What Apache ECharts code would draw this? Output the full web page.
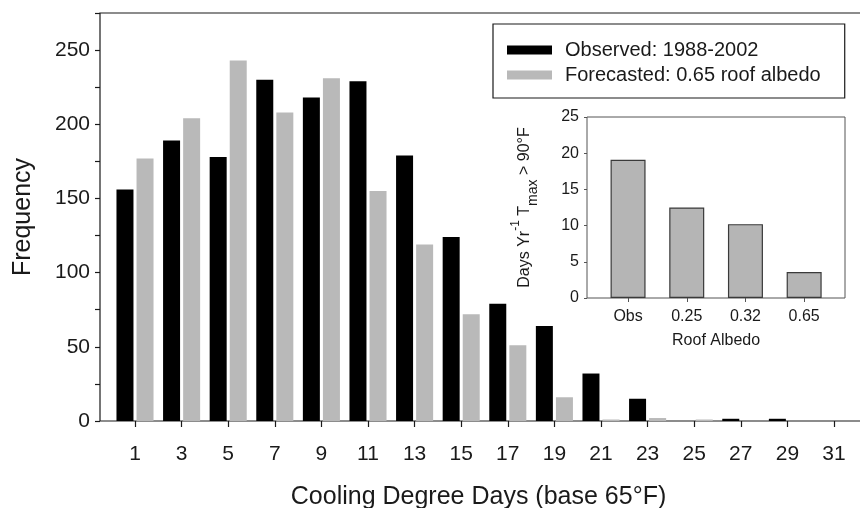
<!DOCTYPE html>
<html>
<head>
<meta charset="utf-8">
<script src="https://cdn.jsdelivr.net/npm/echarts@6/dist/echarts.min.js"></script>
<style>
html, body { margin: 0; padding: 0; background: #fff; }
#main { width: 860px; height: 508px; }
</style>
</head>
<body>
<div id="main"></div>
<script>
// cooling degree day bins (labels on the x axis)
var cddBins = ['1', '3', '5', '7', '9', '11', '13', '15', '17', '19', '21', '23', '25', '27', '29', '31'];
var observed = [156, 189, 178, 230, 218, 229, 179, 124, 79, 64, 32, 15, 0, 1.5, 1.5, 0];
var forecasted = [177, 204, 243, 208, 231, 155, 119, 72, 51, 16, 1, 2, 1, 0, 0, 0];
var freqTicks = [0, 50, 100, 150, 200, 250];

// inset: days per year with Tmax > 90F
var albedoCats = ['Obs', '0.25', '0.32', '0.65'];
var hotDays = [19.1, 12.5, 10.2, 3.6];

var FONT = '"Liberation Sans", Arial, sans-serif';
var INK = '#1a1a1a';
var GREY = '#b9b9b9';

var myChart = echarts.init(document.getElementById('main'), null, {renderer: 'canvas'});

var option = {
    backgroundColor: '#fff',
    animation: false,
    textStyle: {fontFamily: FONT, color: INK},
    legend: {
        data: ['Observed: 1988-2002', 'Forecasted: 0.65 roof albedo'],
        orient: 'vertical',
        left: 493,
        top: 24,
        z: 20,
        padding: [16, 24, 13, 14],
        itemGap: 5,
        itemWidth: 45,
        itemHeight: 9,
        icon: 'rect',
        backgroundColor: '#fff',
        borderColor: INK,
        borderWidth: 1.2,
        borderRadius: 0,
        selectedMode: false,
        textStyle: {fontFamily: FONT, fontSize: 20, color: INK, padding: [0, 0, 0, 8], lineHeight: 20}
    },
    grid: [
        // main frame
        {left: 100, right: -4, top: 13, bottom: 87, outerBoundsMode: 'none', containLabel: false,
            show: true, borderColor: INK, borderWidth: 1.2, backgroundColor: 'transparent'},
        // main bars
        {left: 111.7, right: 2.7, top: 13, bottom: 87, outerBoundsMode: 'none', containLabel: false},
        // inset frame
        {left: 587, right: 15, top: 117, bottom: 210, outerBoundsMode: 'none', containLabel: false,
            show: true, borderColor: '#555', borderWidth: 1, backgroundColor: 'transparent', z: 5},
        // inset bars
        {left: 598.7, right: 26.5, top: 117, bottom: 210, outerBoundsMode: 'none', containLabel: false}
    ],
    xAxis: [
        {gridIndex: 0, type: 'value', min: 0, max: 1, axisLine: {show: false}, axisTick: {show: false}, axisLabel: {show: false}, splitLine: {show: false}},
        {
            gridIndex: 1, type: 'category', data: cddBins,
            axisLine: {show: false},
            axisTick: {show: true, alignWithLabel: true, length: 6, lineStyle: {color: INK, width: 1.2}},
            axisLabel: {fontSize: 21, color: INK, margin: 23, fontFamily: FONT},
            name: 'Cooling Degree Days (base 65\u00b0F)',
            nameLocation: 'middle',
            nameGap: 64,
            nameTextStyle: {fontSize: 25, color: INK, fontFamily: FONT, padding: [0, 12, 0, 0]}
        },
        {gridIndex: 2, type: 'value', min: 0, max: 1, axisLine: {show: false}, axisTick: {show: false}, axisLabel: {show: false}, splitLine: {show: false}},
        {
            gridIndex: 3, type: 'category', data: albedoCats,
            axisLine: {show: false},
            axisTick: {show: true, alignWithLabel: true, length: 4, lineStyle: {color: '#555'}},
            axisLabel: {fontSize: 16, color: INK, margin: 11, fontFamily: FONT},
            name: 'Roof Albedo',
            nameLocation: 'middle',
            nameGap: 35,
            nameTextStyle: {fontSize: 16, color: INK, fontFamily: FONT}
        }
    ],
    yAxis: [
        {
            gridIndex: 0, type: 'value', min: 0, max: 275, interval: 25,
            axisLine: {show: false},
            axisTick: {show: true, length: 5, inside: false, lineStyle: {color: INK, width: 1.2}},
            axisLabel: {fontSize: 21, color: INK, margin: 10, fontFamily: FONT,
                formatter: function (v) { return freqTicks.indexOf(v) >= 0 ? String(v) : ''; }},
            splitLine: {show: false},
            name: 'Frequency',
            nameLocation: 'middle',
            nameGap: 64,
            nameTextStyle: {fontSize: 25, color: INK, fontFamily: FONT}
        },
        {gridIndex: 1, type: 'value', min: 0, max: 275, show: false},
        {
            gridIndex: 2, type: 'value', min: 0, max: 25, interval: 5,
            axisLine: {show: false},
            axisTick: {show: true, length: 3, inside: false, lineStyle: {color: '#555'}},
            axisLabel: {fontSize: 16, color: INK, margin: 8, fontFamily: FONT},
            splitLine: {show: false},
            name: 'Days Yr{sup|-1} T{sub|max} > 90\u00b0F',
            nameLocation: 'middle',
            nameGap: 47,
            nameTextStyle: {
                fontSize: 16, color: INK, fontFamily: FONT, lineHeight: 30,
                rich: {
                    sup: {fontSize: 12, color: INK, fontFamily: FONT, verticalAlign: 'top', lineHeight: 30},
                    sub: {fontSize: 14, color: INK, fontFamily: FONT, verticalAlign: 'bottom', lineHeight: 30}
                }
            }
        },
        {gridIndex: 3, type: 'value', min: 0, max: 25, show: false}
    ],
    series: [
        {
            name: 'Observed: 1988-2002', type: 'bar', xAxisIndex: 1, yAxisIndex: 1,
            data: observed, barWidth: 17, barGap: '18%',
            itemStyle: {color: '#000'}
        },
        {
            name: 'Forecasted: 0.65 roof albedo', type: 'bar', xAxisIndex: 1, yAxisIndex: 1,
            data: forecasted, barWidth: 17, barGap: '18%',
            itemStyle: {color: GREY}
        },
        {
            name: 'Days above 90F', type: 'bar', xAxisIndex: 3, yAxisIndex: 3,
            data: hotDays, barWidth: 35, z: 6,
            itemStyle: {color: '#b5b5b5', borderColor: '#3a3a3a', borderWidth: 1.2}
        }
    ]
};
myChart.setOption(option);
</script>
</body>
</html>
